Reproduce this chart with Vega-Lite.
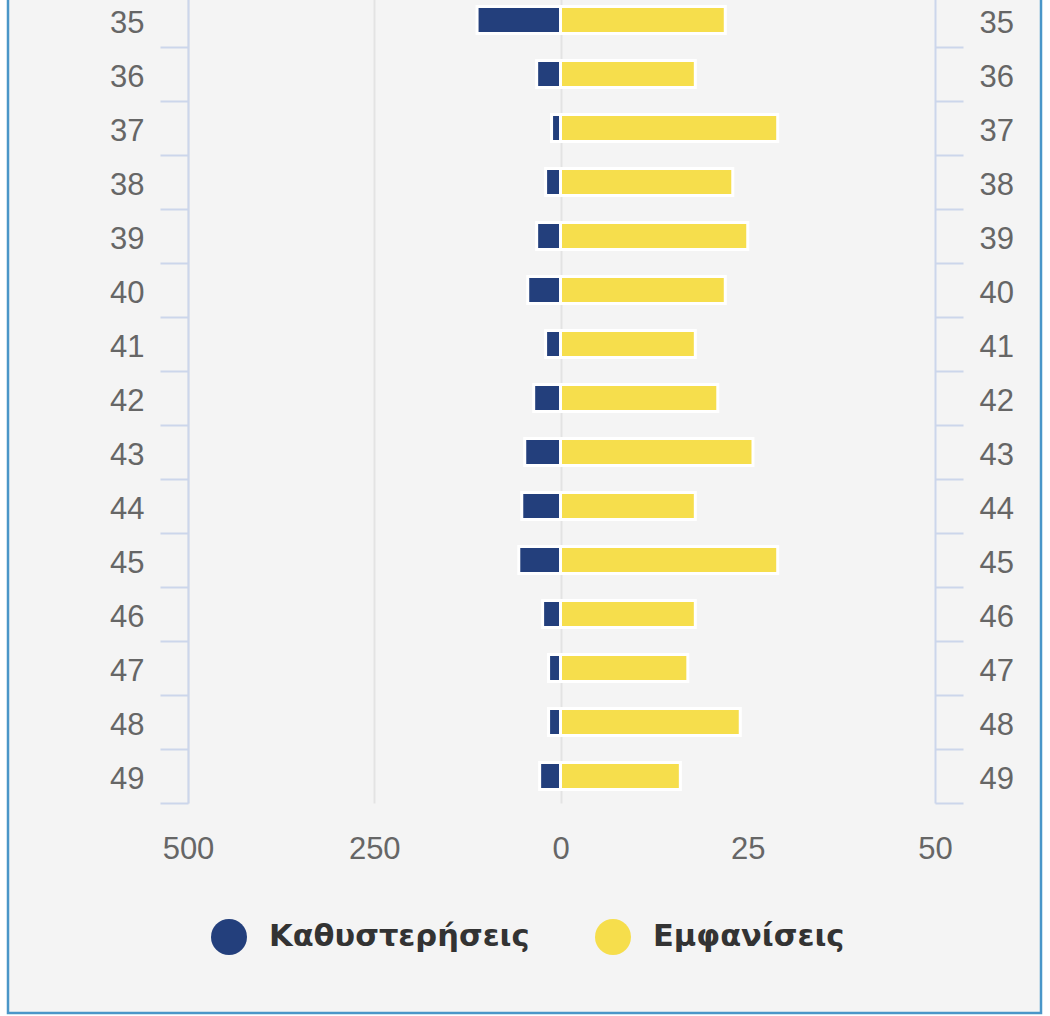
{
  "$schema": "https://vega.github.io/schema/vega-lite/v6.json",
  "width": 1033,
  "height": 1018,
  "autosize": {"type": "none"},
  "padding": {"left": 8, "top": -5, "right": 9, "bottom": 3},
  "background": "white",
  "config": {
    "view": {"fill": "#f4f4f4", "stroke": "#4a96c8", "strokeWidth": 2.5},
    "font": "Liberation Sans"
  },
  "data": {
    "values": [
      {"age": 35, "delays": 112, "appearances": 22},
      {"age": 36, "delays": 32, "appearances": 18},
      {"age": 37, "delays": 12, "appearances": 29},
      {"age": 38, "delays": 20, "appearances": 23},
      {"age": 39, "delays": 32, "appearances": 25},
      {"age": 40, "delays": 44, "appearances": 22},
      {"age": 41, "delays": 20, "appearances": 18},
      {"age": 42, "delays": 36, "appearances": 21},
      {"age": 43, "delays": 48, "appearances": 25.7},
      {"age": 44, "delays": 52, "appearances": 18},
      {"age": 45, "delays": 56, "appearances": 29},
      {"age": 46, "delays": 24, "appearances": 18},
      {"age": 47, "delays": 16, "appearances": 17},
      {"age": 48, "delays": 16, "appearances": 24},
      {"age": 49, "delays": 28, "appearances": 16}
    ]
  },
  "layer": [
    {
      "mark": {"type": "bar", "height": {"band": 0.5}, "opacity": 0},
      "encoding": {
        "y": {
          "field": "age", "type": "ordinal",
          "scale": {"range": [-2, 808], "paddingInner": 0, "paddingOuter": 0},
          "axis": null
        },
        "x": {
          "field": "delays", "type": "quantitative",
          "scale": {"domain": [0, 500], "range": [552.5, 180], "nice": false, "zero": true},
          "axis": {
            "orient": "top", "title": null, "values": [-500, -250, 0, 250, 500],
            "domain": false, "ticks": false, "labels": false,
            "grid": true, "gridColor": "#e3e3e3", "gridWidth": 2
          }
        }
      }
    },
    {
      "mark": {"type": "bar", "height": {"band": 0.5}, "stroke": "white", "strokeWidth": 3},
      "encoding": {
        "y": {
          "field": "age", "type": "ordinal",
          "axis": {
            "orient": "left", "offset": -180, "title": null,
            "domainColor": "#ccd6eb", "domainWidth": 2,
            "tickColor": "#ccd6eb", "tickWidth": 2, "tickSize": 28, "tickBand": "extent",
            "labelFontSize": 31, "labelColor": "#666666", "labelPadding": 16, "labelOffset": 3, "grid": false
          }
        },
        "x": {
          "field": "delays", "type": "quantitative",
          "scale": {"domain": [0, 500], "range": [552.5, 180], "nice": false, "zero": true},
          "axis": {
            "orient": "bottom", "offset": -210, "title": null, "values": [0, 250, 500],
            "domain": false, "ticks": false, "tickSize": 0, "grid": false,
            "labelFlush": false, "labelOverlap": false,
            "labelFontSize": 31, "labelColor": "#666666", "labelPadding": 31
          }
        },
        "color": {
          "datum": "Καθυστερήσεις",
          "scale": {"domain": ["Καθυστερήσεις", "Εμφανίσεις"], "range": ["#233f7c", "#f6de4c"]},
          "legend": {
            "orient": "none", "legendX": 203, "legendY": 924, "direction": "horizontal",
            "title": null, "padding": 0,
            "symbolType": "circle", "symbolSize": 1296, "symbolStrokeWidth": 0, "symbolOpacity": 1,
            "labelFont": "DejaVu Sans", "labelFontSize": 30.5, "labelFontWeight": "bold", "labelColor": "#333333",
            "labelOffset": 22, "columnPadding": 65, "labelLimit": 500
          }
        }
      }
    },
    {
      "mark": {"type": "bar", "height": {"band": 0.5}, "stroke": "white", "strokeWidth": 3},
      "encoding": {
        "y": {
          "field": "age", "type": "ordinal",
          "axis": {
            "orient": "right", "offset": -106, "title": null,
            "domainColor": "#ccd6eb", "domainWidth": 2,
            "tickColor": "#ccd6eb", "tickWidth": 2, "tickSize": 28, "tickBand": "extent",
            "labelFontSize": 31, "labelColor": "#666666", "labelPadding": 16, "labelOffset": 3, "grid": false
          }
        },
        "x": {
          "field": "appearances", "type": "quantitative",
          "scale": {"domain": [0, 50], "range": [552.5, 927], "nice": false, "zero": true},
          "axis": {
            "orient": "bottom", "offset": -210, "title": null, "values": [25, 50],
            "domain": false, "ticks": false, "tickSize": 0, "grid": false,
            "labelFlush": false, "labelOverlap": false,
            "labelFontSize": 31, "labelColor": "#666666", "labelPadding": 31
          }
        },
        "color": {"datum": "Εμφανίσεις"}
      }
    }
  ],
  "resolve": {
    "scale": {"x": "independent"},
    "axis": {"x": "independent", "y": "independent"}
  }
}
